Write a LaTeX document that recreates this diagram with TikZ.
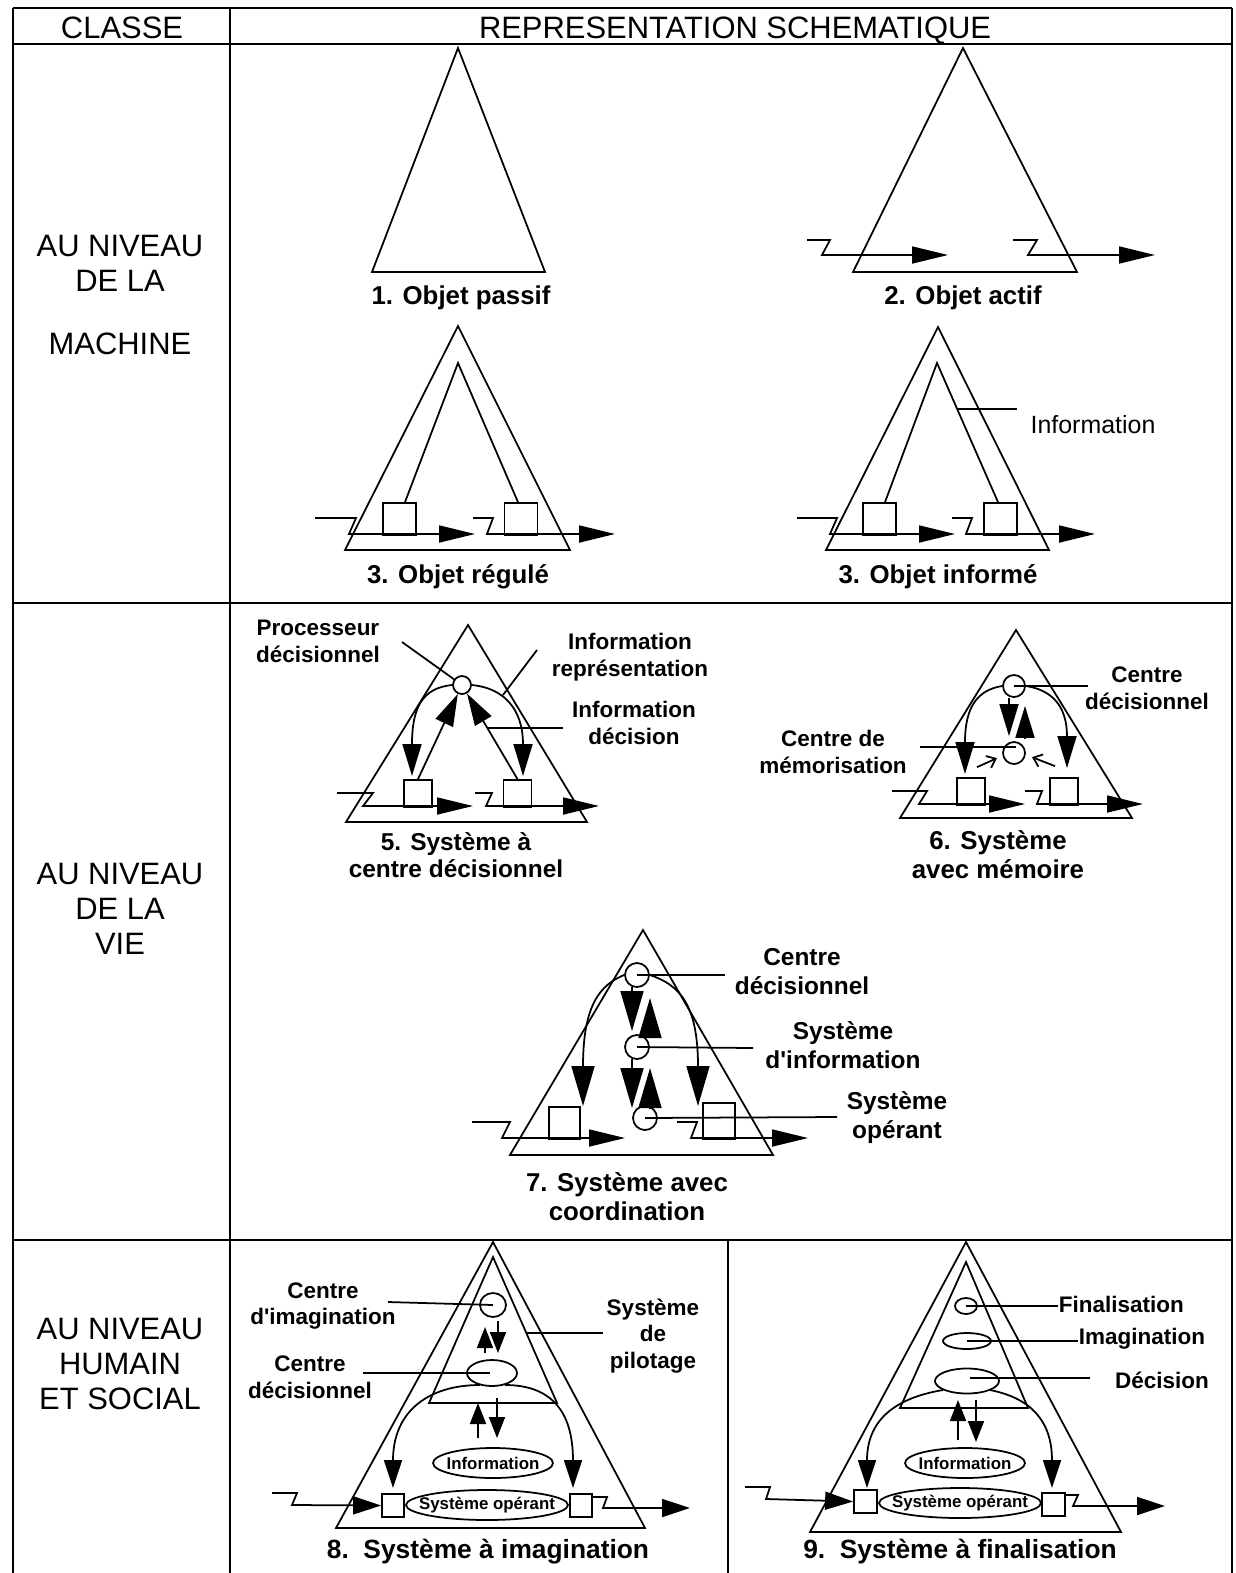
\documentclass[tikz,border=0pt]{standalone}
\usepackage{fontspec}
\setmainfont{Liberation Sans}[Ligatures=TeXOff]
\usetikzlibrary{arrows.meta,shapes.geometric,calc}

\begin{document}
\begin{tikzpicture}[x=0.02cm,y=-0.02cm,line width=1pt,
    cadre/.style={line width=0.8pt},
    titre/.style={font=\fontsize{17.6}{21}\selectfont,anchor=base},
    legende/.style={font=\fontsize{14.7}{16.5}\selectfont\bfseries,align=center},
    etiquette/.style={font=\fontsize{12.8}{15.3}\selectfont\bfseries,align=center},
    petit/.style={font=\fontsize{9.6}{11}\selectfont\bfseries,inner sep=0pt},
    boite/.style={draw,rectangle,inner sep=0pt},
    rond/.style={draw,circle,inner sep=0pt},
    ovale/.style={draw,ellipse,inner sep=0pt},
    fleche/.style={-{Triangle[length=0.72cm,width=0.34cm]}},
    fleche5/.style={-{Triangle[length=0.64cm,width=0.38cm]}},
    fleche7/.style={-{Triangle[length=0.8cm,width=0.46cm]}},
    fleche8/.style={-{Triangle[length=0.56cm,width=0.36cm]}},
    flechette/.style={-{Triangle[length=0.42cm,width=0.32cm]}},
    pointe/.style={-{Straight Barb[length=1.6mm,width=2.6mm]}}]

  \useasboundingbox (0,0) rectangle (1236,1573);

  % tableau
  \draw[cadre] (13,8) -- (1232,8);
  \draw[cadre] (13,44) -- (1232,44);
  \draw[cadre] (13,603) -- (1232,603);
  \draw[cadre] (13,1240) -- (1232,1240);
  \draw[cadre] (13,8) -- (13,1573);
  \draw[cadre] (230,8) -- (230,1573);
  \draw[cadre] (1232,8) -- (1232,1573);
  \draw[cadre] (728,1240) -- (728,1573);

  \node[titre] (classe) at (122,38) {CLASSE};
  \node[titre] (repr) at (735,38) {REPRESENTATION SCHEMATIQUE};

  \begin{scope}[every node/.style={titre}]
    \node (m1) at (120,256) {AU NIVEAU};
    \node (m2) at (120,291) {DE LA};
    \node (m3) at (120,354) {MACHINE};
    \node (v1) at (120,884) {AU NIVEAU};
    \node (v2) at (120,919) {DE LA};
    \node (v3) at (120,954) {VIE};
    \node (h1) at (120,1339) {AU NIVEAU};
    \node (h2) at (120,1374) {HUMAIN};
    \node (h3) at (120,1409) {ET SOCIAL};
  \end{scope}

  % 1. objet passif
  \draw (458,48) -- (545,272) -- (372,272) -- cycle;
  \node[legende,anchor=base] (l1) at (461,304) {1. Objet passif};

  % 2. objet actif
  \draw (963,48) -- (1077,272) -- (853,272) -- cycle;
  \draw[fleche] (807,240) -- (830,240) -- (822,255) -- (948,255);
  \draw[fleche] (1013,240) -- (1037,240) -- (1028,255) -- (1155,255);
  \node[legende,anchor=base] (l2) at (963,304) {2. Objet actif};

  % 3. objet regule
  \draw (458,326) -- (570,550) -- (345,550) -- cycle;
  \node[boite,minimum width=0.66cm,minimum height=0.64cm] (b3a) at (399.5,519) {};
  \node[boite,minimum width=0.66cm,minimum height=0.64cm] (b3b) at (521,519) {};
  \draw ([xshift=0.11cm]b3a.north) -- (458,363) -- ([xshift=-0.06cm]b3b.north);
  \draw[fleche] (315,518) -- (356,518) -- (349,534) -- (475,534);
  \draw[fleche] (473,518) -- (493,518) -- (487,534) -- (615,534);
  \node[legende,anchor=base] (l3) at (458,583) {3. Objet régulé};

  % 3. objet informe
  \draw (938,327) -- (1049,550) -- (826,550) -- cycle;
  \node[boite,minimum width=0.66cm,minimum height=0.64cm] (b4a) at (879.5,519) {};
  \node[boite,minimum width=0.66cm,minimum height=0.64cm] (b4b) at (1000.5,519) {};
  \draw ([xshift=0.11cm]b4a.north) -- (937,363) -- ([xshift=-0.05cm]b4b.north);
  \draw[fleche] (797,518) -- (837,518) -- (830,534) -- (955,534);
  \draw[fleche] (952,518) -- (972,518) -- (966,534) -- (1095,534);
  \node[font=\fontsize{14.2}{17}\selectfont] (info4) at (1093,425) {Information};
  \draw (957,409) -- (1017,409);
  \node[legende,anchor=base] (l4) at (938,583) {3. Objet informé};

  % 5. systeme a centre decisionnel
  \draw (468,625) -- (587,822) -- (346,822) -- cycle;
  \node[rond,minimum size=0.36cm] (c5) at (462,685) {};
  \node[boite,minimum width=0.56cm,minimum height=0.54cm] (b5a) at (418,793.5) {};
  \node[boite,minimum width=0.56cm,minimum height=0.54cm] (b5b) at (517.5,793.5) {};
  \draw[fleche5] (c5.west) .. controls (422,688) and (412,708) .. (412,776);
  \draw[fleche5] (c5.east) .. controls (503,688) and (523,708) .. (523,776);
  \draw[fleche5] (b5a.north) -- (c5);
  \draw[fleche5] (b5b.north) -- (c5);
  \draw[fleche] (337,793) -- (373,793) -- (363,806) -- (473,806);
  \draw[fleche] (475,793) -- (492,793) -- (486,806) -- (599,806);
  \node[etiquette] (proc) at (318,641) {Processeur\\décisionnel};
  \draw (402,642) -- (c5);
  \node[etiquette] (irep) at (630,657) {Information\\représentation};
  \draw (503,695) -- (537,650);
  \node[etiquette] (idec) at (634,723) {Information\\décision};
  \draw (488,728) -- (563,728);
  \node[legende,font=\fontsize{13.9}{15.3}\selectfont\bfseries] (l5) at (456,855) {5. Système à\\centre décisionnel};

  % 6. systeme avec memoire
  \draw (1016,630) -- (1132,818) -- (900,818) -- cycle;
  \node[rond,minimum size=0.44cm] (c6a) at (1014,686) {};
  \node[rond,minimum size=0.44cm] (c6b) at (1014,753) {};
  \node[boite,minimum width=0.56cm,minimum height=0.54cm] (b6a) at (971,791.5) {};
  \node[boite,minimum width=0.56cm,minimum height=0.54cm] (b6b) at (1064,791.5) {};
  \draw[fleche5] (c6a.west) .. controls (978,690) and (965,706) .. (965,774);
  \draw[fleche5] (c6a.east) .. controls (1052,690) and (1067,706) .. (1067,768);
  \draw[fleche5] ([xshift=-0.1cm]c6a.south) -- ([xshift=-0.1cm,yshift=0.1cm]c6b.north);
  \draw[fleche5] ([xshift=0.22cm,yshift=0.05cm]c6b.north) -- ([xshift=0.22cm,yshift=-0.16cm]c6a.south);
  \draw[pointe] ($(b6a.north)+(6,-10)$) -- ($(b6a.north)+(26,-19)$);
  \draw[pointe] ($(b6b.north)+(-9,-11)$) -- ($(b6b.north)+(-32,-20)$);
  \draw[fleche] (892,791) -- (927,791) -- (919,804) -- (1025,804);
  \draw[fleche] (1025,791) -- (1042,791) -- (1037,804) -- (1143,804);
  \node[etiquette] (cdec6) at (1147,688) {Centre\\décisionnel};
  \draw (c6a.center) -- (1088,686);
  \node[etiquette] (cmem) at (833,752) {Centre de\\mémorisation};
  \draw (920,747) -- (1016,747);
  \node[legende] (l6) at (998,855) {6. Système\\avec mémoire};

  % 7. systeme avec coordination
  \draw (643,930) -- (773,1155) -- (510,1155) -- cycle;
  \node[rond,minimum size=0.48cm] (c7a) at (637,975) {};
  \node[rond,minimum size=0.48cm] (c7b) at (637,1047) {};
  \node[rond,minimum size=0.48cm] (c7c) at (645,1118) {};
  \node[boite,minimum width=0.62cm,minimum height=0.64cm] (b7a) at (564.5,1123) {};
  \node[boite,minimum width=0.64cm,minimum height=0.72cm] (b7b) at (719,1121) {};
  \draw[fleche7] (c7a.west) .. controls (600,985) and (583,1005) .. (583,1106);
  \draw[fleche7] (c7a.east) .. controls (680,985) and (698,1005) .. (698,1106);
  \draw[fleche7] (632,987) -- (632,1031);
  \draw[fleche7] (650,1036) -- (650,998);
  \draw[fleche7] (632,1059) -- (632,1108);
  \draw[fleche7] (650,1108) -- (650,1068);
  \draw[fleche] (472,1122) -- (510,1122) -- (502,1138) -- (625,1138);
  \draw[fleche] (677,1122) -- (697,1122) -- (691,1138) -- (808,1138);
  \draw (c7a.center) -- (725,975);
  \draw (c7b.center) -- (753,1048);
  \draw (c7c.center) -- (837,1117);
  \node[etiquette,font=\fontsize{13.9}{16.5}\selectfont\bfseries] (cdec7) at (802,972) {Centre\\décisionnel};
  \node[etiquette,font=\fontsize{13.9}{16.5}\selectfont\bfseries] (sinf7) at (843,1045) {Système\\d'information};
  \node[etiquette,font=\fontsize{13.9}{16.5}\selectfont\bfseries] (sop7) at (897,1118) {Système\\opérant};
  \node[legende] (l7) at (627,1197) {7. Système avec\\coordination};

  % 8. systeme a imagination
  \draw (493,1242) -- (645,1528) -- (336,1528) -- cycle;
  \draw (493,1257) -- (557,1403) -- (429,1403) -- cycle;
  \node[ovale,minimum width=0.52cm,minimum height=0.48cm] (e8a) at (493,1305) {};
  \node[ovale,minimum width=1.0cm,minimum height=0.52cm] (e8b) at (492,1373) {};
  \node[ovale,minimum width=2.4cm,minimum height=0.6cm] (e8c) at (493,1463) {};
  \node[ovale,minimum width=3.24cm,minimum height=0.6cm] (e8d) at (487,1505) {};
  \node[petit] (t8c) at (e8c) {Information};
  \node[petit] (t8d) at (e8d) {Système opérant};
  \node[boite,minimum width=0.44cm,minimum height=0.46cm] (b8a) at (393,1505.5) {};
  \node[boite,minimum width=0.44cm,minimum height=0.46cm] (b8b) at (581,1505.5) {};
  \draw[flechette] (485,1353) -- (485,1327);
  \draw[flechette] (498,1321) -- (498,1353);
  \draw[fleche8] (480,1385) .. controls (430,1385) and (393,1410) .. (393,1488);
  \draw[fleche8] (505,1385) .. controls (550,1385) and (573,1410) .. (573,1488);
  \draw[flechette] (478,1438) -- (478,1403);
  \draw[flechette] (497,1398) -- (497,1438);
  \draw[fleche8] (272,1493) -- (297,1493) -- (292,1505) -- (b8a.west);
  \draw[fleche8] (b8b.east |- 0,1497) -- (607,1497) -- (603,1508) -- (690,1508);
  \node[etiquette] (cima8) at (323,1306) {Centre\\d'imagination};
  \draw (388,1302) -- (e8a.center);
  \node[etiquette] (cdec8) at (310,1377) {Centre\\décisionnel};
  \draw (363,1373) -- (490,1373);
  \node[etiquette] (pilo8) at (653,1336) {Système\\de\\pilotage};
  \draw (527,1333) -- (603,1333);
  \node[legende,font=\fontsize{15}{18}\selectfont\bfseries,anchor=base] (l8) at (488,1558) {8.\ \ Système à imagination};

  % 9. systeme a finalisation
  \draw (966,1242) -- (1121,1532) -- (810,1532) -- cycle;
  \draw (966,1262) -- (1028,1408) -- (900,1408) -- cycle;
  \node[ovale,minimum width=0.44cm,minimum height=0.32cm] (e9a) at (966,1306) {};
  \node[ovale,minimum width=0.96cm,minimum height=0.32cm] (e9b) at (967,1341) {};
  \node[ovale,minimum width=1.28cm,minimum height=0.5cm] (e9c) at (967,1381) {};
  \node[ovale,minimum width=2.4cm,minimum height=0.6cm] (e9d) at (965,1463) {};
  \node[ovale,minimum width=3.24cm,minimum height=0.6cm] (e9e) at (960,1503) {};
  \node[petit] (t9d) at (e9d) {Information};
  \node[petit] (t9e) at (e9e) {Système opérant};
  \node[boite,minimum width=0.46cm,minimum height=0.46cm] (b9a) at (865.5,1501.5) {};
  \node[boite,minimum width=0.46cm,minimum height=0.46cm] (b9b) at (1053.5,1504.5) {};
  \draw[fleche8] (943,1390) .. controls (895,1398) and (867,1420) .. (867,1488);
  \draw[fleche8] (990,1390) .. controls (1030,1398) and (1052,1420) .. (1052,1488);
  \draw[flechette] (958,1440) -- (958,1400);
  \draw[flechette] (976,1400) -- (976,1442);
  \draw[fleche8] (745,1487) -- (770,1487) -- (766,1499) -- (b9a.west);
  \draw[fleche8] (b9b.east |- 0,1495) -- (1078,1495) -- (1073,1506) -- (1165,1506);
  \draw (e9a.center) -- (1058,1306);
  \draw (e9b.center) -- (1078,1341);
  \draw (970,1378) -- (1090,1378);
  \node[etiquette,anchor=west,inner sep=0pt] (fin9) at (1058,1304) {Finalisation};
  \node[etiquette,anchor=west,inner sep=0pt] (ima9) at (1078,1339) {Imagination};
  \node[etiquette] (dec9) at (1162,1380) {Décision};
  \node[legende,font=\fontsize{15}{18}\selectfont\bfseries,anchor=base] (l9) at (960,1558) {9.\ \ Système à finalisation};

\end{tikzpicture}
\end{document}
